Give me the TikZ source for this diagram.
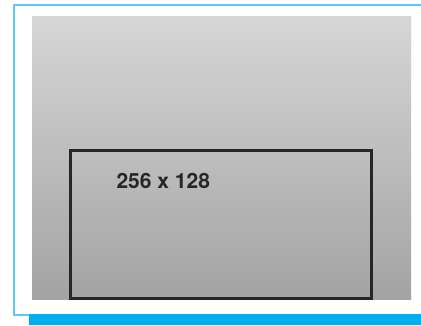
\documentclass[tikz,border=0pt]{standalone}
\usepackage{fontspec}
\setsansfont{TeX Gyre Heros}
\usepackage{xcolor}
\usepackage{tikz}
\usetikzlibrary{positioning}
\definecolor{cyanbar}{RGB}{0,174,239}
\definecolor{frameblue}{RGB}{95,200,245}
\definecolor{boxline}{RGB}{38,38,38}

\begin{document}
\begin{tikzpicture}[x=1pt,y=-1pt,every node/.style={font=\sffamily\bfseries}]
\useasboundingbox (0,0) rectangle (421,325);
\fill[white] (0,0) rectangle (421,325);
\draw[frameblue,line width=2pt] (421,5) -- (14,5) -- (14,315) -- (29,315);
\fill[cyanbar] (29,314) rectangle (421,325);
\shade[top color=black!16,bottom color=black!36] (32,16) rectangle (411,299);
\draw[boxline,line width=3pt] (70,150) rectangle (371,298);
\node[boxline,font=\sffamily\bfseries\fontsize{21}{23}\selectfont,anchor=west] (lbl) at (113,181) {256 x 128};
\end{tikzpicture}
\end{document}
